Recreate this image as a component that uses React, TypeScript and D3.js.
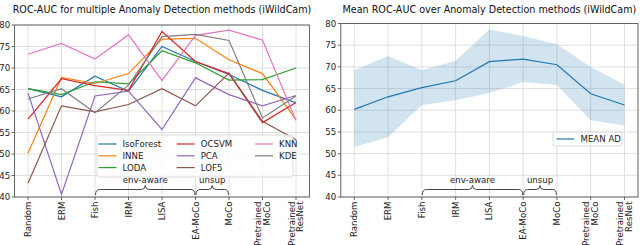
import React, { useEffect, useRef } from 'react';
import * as d3 from 'd3';

// categories on the x axis (\n splits the two-line labels)
const categories = ['Random', 'ERM', 'Fish', 'IRM', 'LISA', 'EA-MoCo', 'MoCo', 'Pretrained\nMoCo', 'Pretrained\nResNet'];
const yTicks = [40, 45, 50, 55, 60, 65, 70, 75, 80];

const methodNames = ['IsoForest', 'INNE', 'LODA', 'OCSVM', 'PCA', 'LOF5', 'KNN', 'KDE'];
const methodColors = ['#1f77b4', '#ff7f0e', '#2ca02c', '#d62728', '#9467bd', '#8c564b', '#e377c2', '#7f7f7f'];

const isoForest = [65.2, 63.3, 68.1, 64.6, 75.0, 71.5, 68.5, 64.8, 61.9];
const inne = [50.2, 67.8, 66.4, 68.7, 76.7, 76.9, 71.9, 68.7, 58.0];
const loda = [65.2, 63.8, 66.8, 66.3, 74.0, 71.2, 67.2, 67.3, 70.0];
const ocsvm = [58.1, 67.5, 65.9, 64.8, 78.5, 71.5, 68.7, 57.3, 62.0];
const pca = [64.2, 40.6, 63.5, 64.6, 55.7, 67.7, 63.8, 61.2, 63.6];
const lof5 = [43.2, 61.2, 59.8, 61.5, 65.2, 61.2, 68.8, 57.6, 53.3];
const knn = [73.2, 75.7, 72.1, 77.7, 67.1, 77.6, 78.8, 76.5, 57.8];
const kde = [62.8, 65.2, 59.6, 66.0, 77.3, 77.8, 76.4, 58.4, 63.5];
const methodValues = [isoForest, inne, loda, ocsvm, pca, lof5, knn, kde];

const meanAD = [60.2, 63.1, 65.2, 66.8, 71.2, 71.8, 70.5, 63.8, 61.2];
const meanUpper = [69.2, 72.5, 69.2, 71.4, 78.6, 77.1, 75.2, 70.0, 65.9];
const meanLower = [51.5, 53.8, 61.2, 62.3, 64.0, 66.5, 65.8, 57.7, 56.5];

// brackets: [label, from category, to category]
const groups: [string, string, string][] = [
    ['env-aware', 'Fish', 'EA-MoCo'],
    ['unsup', 'EA-MoCo', 'MoCo'],
];

const FONT = 'DejaVu Sans, sans-serif';
const W = 640;
const H = 245;

type Panel = {
    left: number;
    right: number;
    top: number;
    bottom: number;
    title: string;
};

const drawPanel = (
    svg: d3.Selection<SVGSVGElement, unknown, null, undefined>,
    p: Panel
) => {
    const x = d3.scalePoint<string>()
        .domain(categories)
        .range([p.left, p.right])
        .padding(0.4);
    const y = d3.scaleLinear().domain([40, 80]).range([p.bottom, p.top]);

    const g = svg.append('g');

    // grid
    g.append('g').selectAll('line.vx')
        .data(categories)
        .join('line')
        .attr('x1', d => x(d)!)
        .attr('x2', d => x(d)!)
        .attr('y1', p.top)
        .attr('y2', p.bottom)
        .attr('stroke', '#dcdcdc')
        .attr('stroke-width', 0.9);
    g.append('g').selectAll('line.hy')
        .data(yTicks)
        .join('line')
        .attr('x1', p.left)
        .attr('x2', p.right)
        .attr('y1', d => y(d))
        .attr('y2', d => y(d))
        .attr('stroke', '#dcdcdc')
        .attr('stroke-width', 0.9);

    // y tick labels + ticks
    g.append('g').selectAll('text')
        .data(yTicks)
        .join('text')
        .attr('x', p.left - 4.5)
        .attr('y', d => y(d))
        .attr('dy', '0.35em')
        .attr('text-anchor', 'end')
        .style('font-family', FONT)
        .style('font-size', '8.6px')
        .style('fill', '#222')
        .text(d => d);
    g.append('g').selectAll('line')
        .data(yTicks)
        .join('line')
        .attr('x1', p.left - 3)
        .attr('x2', p.left)
        .attr('y1', d => y(d))
        .attr('y2', d => y(d))
        .attr('stroke', '#444')
        .attr('stroke-width', 0.8);

    // x ticks and rotated labels
    g.append('g').selectAll('line')
        .data(categories)
        .join('line')
        .attr('x1', d => x(d)!)
        .attr('x2', d => x(d)!)
        .attr('y1', p.bottom)
        .attr('y2', p.bottom + 3)
        .attr('stroke', '#444')
        .attr('stroke-width', 0.8);
    categories.forEach(c => {
        const lines = c.split('\n');
        const t = g.append('g')
            .attr('transform', `translate(${x(c)},${p.bottom + 4.5}) rotate(-90)`);
        lines.forEach((ln, i) => {
            t.append('text')
                .attr('x', 0)
                .attr('y', (i - (lines.length - 1) / 2) * 8.6)
                .attr('dy', '0.35em')
                .attr('text-anchor', 'end')
                .style('font-family', FONT)
                .style('font-size', '8.6px')
                .style('fill', '#222')
                .text(ln);
        });
    });

    // title
    svg.append('text')
        .attr('x', (p.left + p.right) / 2)
        .attr('y', 12.5)
        .attr('text-anchor', 'middle')
        .style('font-family', FONT)
        .style('font-size', '9.6px')
        .style('fill', '#111')
        .text(p.title);

    // brackets
    groups.forEach(([label, a, b]) => {
        const x1 = x(a)! + 0.5;
        const x2 = x(b)! - 0.5;
        const mid = (x1 + x2) / 2;
        const yb = p.bottom - 2;
        const yh = p.bottom - 7.5;
        const yt = p.bottom - 11.5;
        const r = 4;
        const path = d3.path();
        path.moveTo(x1, yb);
        path.quadraticCurveTo(x1, yh, x1 + r, yh);
        path.lineTo(mid - r, yh);
        path.quadraticCurveTo(mid, yh, mid, yt);
        path.quadraticCurveTo(mid, yh, mid + r, yh);
        path.lineTo(x2 - r, yh);
        path.quadraticCurveTo(x2, yh, x2, yb);
        g.append('path')
            .attr('d', path.toString())
            .attr('fill', 'none')
            .attr('stroke', '#333')
            .attr('stroke-width', 0.9);
        g.append('text')
            .attr('x', mid)
            .attr('y', p.bottom - 14)
            .attr('text-anchor', 'middle')
            .style('font-family', FONT)
            .style('font-size', '8.6px')
            .style('fill', '#222')
            .text(label);
    });

    return { x, y, g };
};

const addSpines = (
    svg: d3.Selection<SVGSVGElement, unknown, null, undefined>,
    p: Panel
) => {
    svg.append('rect')
        .attr('x', p.left)
        .attr('y', p.top)
        .attr('width', p.right - p.left)
        .attr('height', p.bottom - p.top)
        .attr('fill', 'none')
        .attr('stroke', '#555')
        .attr('stroke-width', 0.9);
};

const App: React.FC = () => {
    const svgRef = useRef<SVGSVGElement>(null);

    useEffect(() => {
        if (!svgRef.current) return;
        const svg = d3.select(svgRef.current);
        svg.selectAll('*').remove();

        // ---------- left panel ----------
        const lp: Panel = { left: 14.6, right: 309.4, top: 25, bottom: 197, title: 'ROC-AUC for multiple Anomaly Detection methods (iWildCam)' };
        const L = drawPanel(svg, lp);

        const line = d3.line<number>()
            .x((d, i) => L.x(categories[i])!)
            .y(d => L.y(d));

        methodValues.forEach((vals, k) => {
            L.g.append('path')
                .datum(vals)
                .attr('fill', 'none')
                .attr('stroke', methodColors[k])
                .attr('stroke-width', 1.2)
                .attr('d', line);
        });

        // legend
        const lg = L.g.append('g');
        lg.append('rect')
            .attr('x', 97)
            .attr('y', 135)
            .attr('width', 196)
            .attr('height', 42)
            .attr('rx', 2)
            .attr('fill', 'white')
            .attr('fill-opacity', 0.8)
            .attr('stroke', '#d0d0d0')
            .attr('stroke-width', 0.8);
        const colX = [98.5, 176.7, 255];
        methodNames.forEach((name, k) => {
            const col = Math.floor(k / 3);
            const row = k % 3;
            const ly = 144 + row * 11.8;
            lg.append('line')
                .attr('x1', colX[col])
                .attr('x2', colX[col] + 18)
                .attr('y1', ly)
                .attr('y2', ly)
                .attr('stroke', methodColors[k])
                .attr('stroke-width', 1.2);
            lg.append('text')
                .attr('x', colX[col] + 24)
                .attr('y', ly)
                .attr('dy', '0.35em')
                .style('font-family', FONT)
                .style('font-size', '8.6px')
                .style('fill', '#222')
                .text(name);
        });
        addSpines(svg, lp);

        // ---------- right panel ----------
        const rp: Panel = { left: 340.8, right: 638, top: 23.5, bottom: 197, title: 'Mean ROC-AUC over Anomaly Detection methods (iWildCam)' };
        const R = drawPanel(svg, rp);

        const area = d3.area<number>()
            .x((d, i) => R.x(categories[i])!)
            .y0((d, i) => R.y(meanLower[i]))
            .y1(d => R.y(d));
        R.g.append('path')
            .datum(meanUpper)
            .attr('fill', '#1f77b4')
            .attr('fill-opacity', 0.2)
            .attr('d', area);

        const mline = d3.line<number>()
            .x((d, i) => R.x(categories[i])!)
            .y(d => R.y(d));
        R.g.append('path')
            .datum(meanAD)
            .attr('fill', 'none')
            .attr('stroke', '#1f77b4')
            .attr('stroke-width', 1.2)
            .attr('d', mline);

        const rl = R.g.append('g');
        rl.append('rect')
            .attr('x', 553)
            .attr('y', 132)
            .attr('width', 69)
            .attr('height', 14)
            .attr('rx', 2)
            .attr('fill', 'white')
            .attr('fill-opacity', 0.8)
            .attr('stroke', '#d0d0d0')
            .attr('stroke-width', 0.8);
        rl.append('line')
            .attr('x1', 556.5)
            .attr('x2', 574)
            .attr('y1', 139)
            .attr('y2', 139)
            .attr('stroke', '#1f77b4')
            .attr('stroke-width', 1.2);
        rl.append('text')
            .attr('x', 580.5)
            .attr('y', 139)
            .attr('dy', '0.35em')
            .style('font-family', FONT)
            .style('font-size', '8.6px')
            .style('fill', '#222')
            .text('MEAN AD');
        addSpines(svg, rp);
    }, []);

    return (
        <svg
            ref={svgRef}
            width={W}
            height={H}
            style={{ position: 'fixed', left: 0, top: 0, background: 'white' }}
        />
    );
};

export default App;
